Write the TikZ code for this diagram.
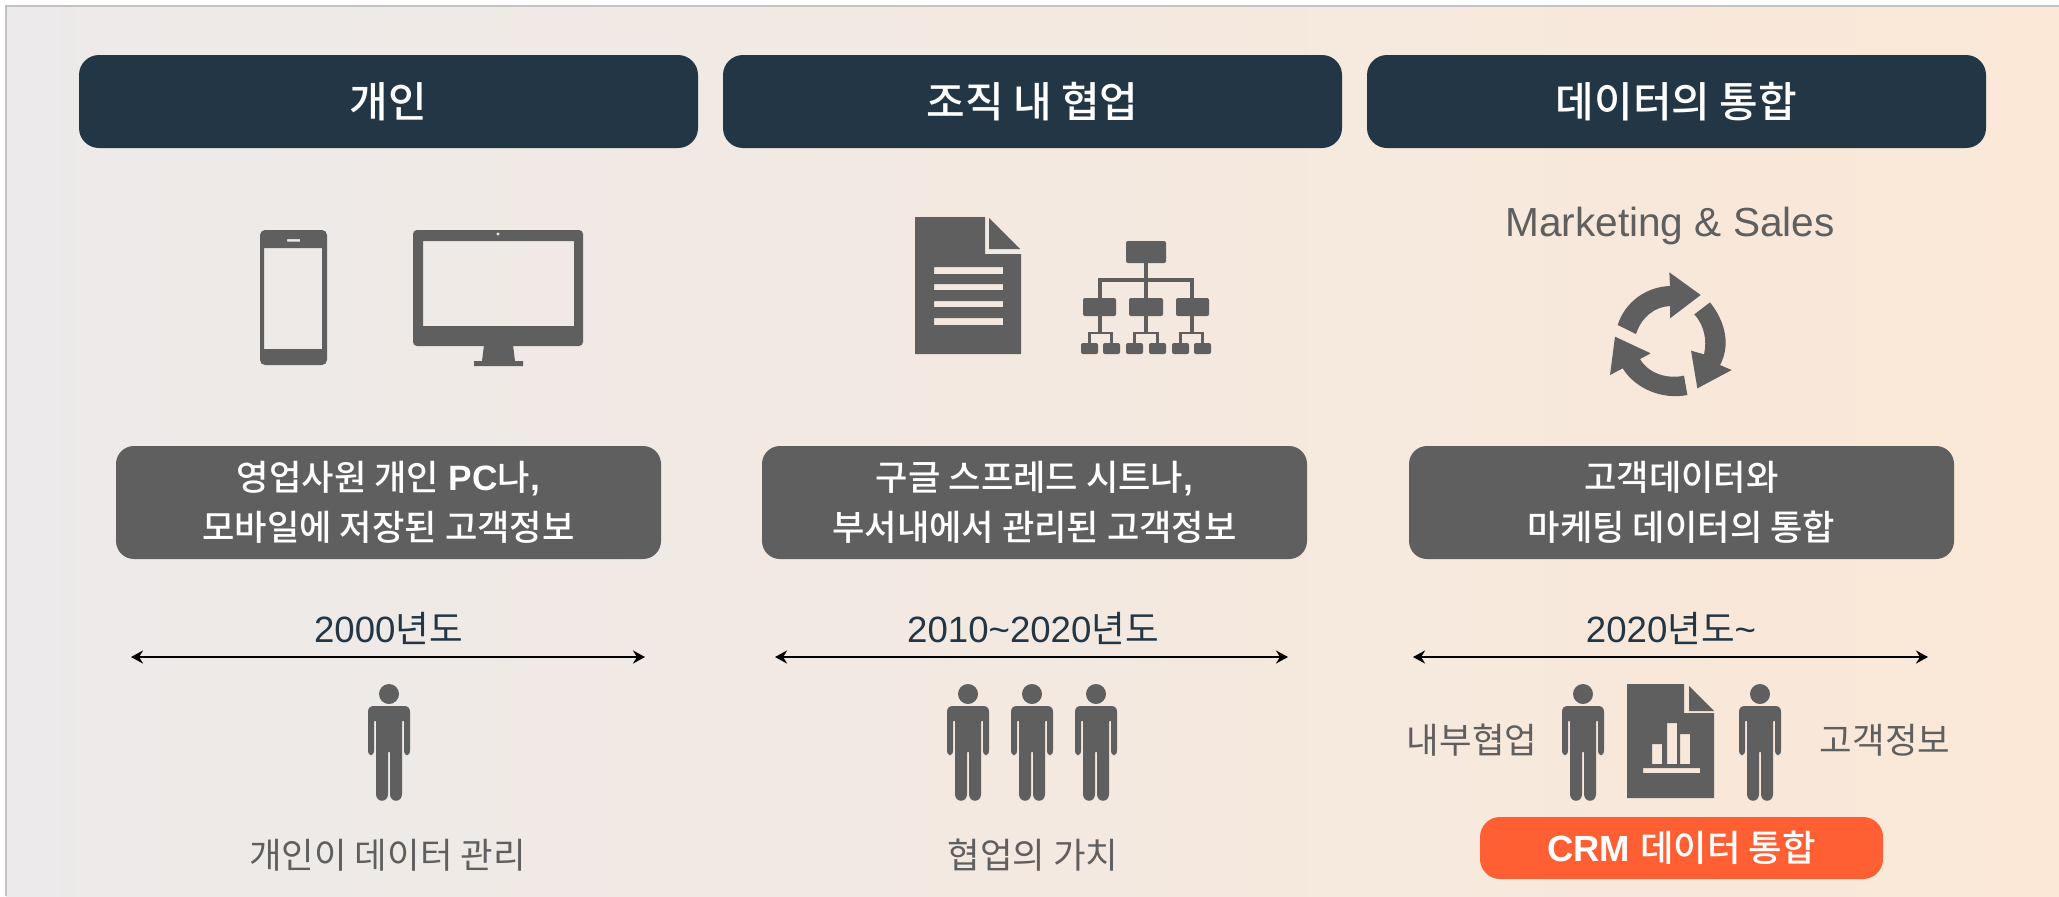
\documentclass[tikz,border=0pt]{standalone}
\usepackage{fontspec}
\usetikzlibrary{arrows.meta}
\setmainfont{Liberation Sans}
\newfontfamily\krfont[BoldFont={Noto Sans CJK KR Medium}]{Noto Sans CJK KR}
\newcommand{\K}[1]{{\krfont #1}}
\definecolor{navy}{HTML}{223645}
\definecolor{icon}{HTML}{5F5F5F}
\definecolor{crm}{HTML}{FF5F33}
\tikzset{
  x=0.5pt,y=-0.5pt,
  header/.style={fill=navy,rounded corners=10pt,minimum width=309.5pt,minimum height=46.5pt,inner sep=0pt,text=white,font=\fontsize{21}{25}\selectfont\bfseries},
  graybox/.style={fill=icon,rounded corners=9pt,minimum width=272.5pt,minimum height=56.5pt,inner sep=0pt,text=white,align=center,font=\fontsize{17.6}{25}\selectfont\bfseries},
  year/.style={text=navy,inner sep=0pt,font=\fontsize{18.3}{22}\selectfont},
  label/.style={text=icon,inner sep=0pt,font=\fontsize{17.7}{22}\selectfont},
  span/.style={{Stealth[length=6pt,width=6.5pt]}-{Stealth[length=6pt,width=6.5pt]},black,line width=1.2pt},
  person/.pic={
    \fill[icon] (0,0) circle[radius=5pt];
    \fill[icon] (-21,18) .. controls (-21,14) and (-19,12) .. (-15,12) -- (15,12)
      .. controls (19,12) and (21,14) .. (21,18) -- (21,56)
      .. controls (21,63) and (15,63) .. (15,56) -- (15,27) -- (13,27) -- (13,100)
      .. controls (13,109) and (1,109) .. (1,100) -- (1,58) -- (-1,58) -- (-1,100)
      .. controls (-1,109) and (-13,109) .. (-13,100) -- (-13,27) -- (-15,27) -- (-15,56)
      .. controls (-15,63) and (-21,63) .. (-21,56) -- cycle;
  }
}
\begin{document}
\begin{tikzpicture}
\useasboundingbox (0,0) rectangle (2059,896);
\shade[left color={rgb,255:red,236;green,234;blue,234}, right color={rgb,255:red,251;green,232;blue,215}] (6,6) rectangle (2059,896);
\draw[color={rgb,255:red,196;green,194;blue,192},line width=0.6pt] (6,896) -- (6,6) -- (2059,6);

% headers
\node[header] (h1) at (388.5,101.5) {\K{\bfseries 개인}};
\node[header] (h2) at (1032.5,101.5) {\K{\bfseries 조직 내 협업}};
\node[header] (h3) at (1676.5,101.5) {\K{\bfseries 데이터의 통합}};

% phone
\fill[icon,even odd rule] [rounded corners=2.5pt] (260,230) rectangle (327,365)
  [sharp corners] (264,248) rectangle (322,349) (287,239) rectangle (300,241.5);
% monitor
\fill[icon,even odd rule] [rounded corners=2pt] (413,230) rectangle (583,346)
  [sharp corners] (423,241) rectangle (574,326) (498,234) circle[radius=0.9pt];
\fill[icon] (484,345) -- (513,345) -- (515,361) -- (523,361) -- (523,366) -- (474,366) -- (474,361) -- (482,361) -- cycle;

% document
\fill[icon,even odd rule] (915,217) -- (985,217) -- (985,254) -- (1021,254) -- (1021,354) -- (915,354) -- cycle
  (934,267) rectangle (1003,274) (934,284) rectangle (1003,290) (934,301) rectangle (1003,307) (934,318) rectangle (1003,325);
\fill[icon] (989,218) -- (1020,249) -- (989,249) -- cycle;

% org chart
\begin{scope}[icon,line width=1.6pt]
  \draw (1146,263) -- (1146,298);
  \draw (1100,298) -- (1100,280) -- (1192,280) -- (1192,298);
  \draw (1100,316) -- (1100,333) (1146,316) -- (1146,333) (1192,316) -- (1192,333);
\end{scope}
\begin{scope}[icon,line width=1.3pt]
  \draw (1089.5,343) -- (1089.5,333) -- (1111.5,333) -- (1111.5,343);
  \draw (1134.5,343) -- (1134.5,333) -- (1157.5,333) -- (1157.5,343);
  \draw (1180.5,343) -- (1180.5,333) -- (1202.5,333) -- (1202.5,343);
\end{scope}
\begin{scope}[rounded corners=1pt]
  \fill[icon] (1126,241) rectangle (1166,263);
  \fill[icon] (1083,298) rectangle (1116,316);
  \fill[icon] (1129,298) rectangle (1163,316);
  \fill[icon] (1176,298) rectangle (1209,316);
  \fill[icon] (1081,343) rectangle (1098,354);
  \fill[icon] (1103,343) rectangle (1120,354);
  \fill[icon] (1126,343) rectangle (1143,354);
  \fill[icon] (1149,343) rectangle (1166,354);
  \fill[icon] (1172,343) rectangle (1189,354);
  \fill[icon] (1194,343) rectangle (1211,354);
\end{scope}

% marketing
\node[text=icon,inner sep=0pt,font=\fontsize{20.3}{24}\selectfont] (ms) at (1670,226) {Marketing \& Sales};
\begin{scope}[shift={(1580,260)},x=0.16667pt,y=-0.16667pt]
  \fill[icon] (113,195) .. controls (135,125) and (200,80) .. (270,78) -- (268,37) -- (362,105) -- (270,175) -- (270,138)
     .. controls (225,140) and (185,170) .. (168,222) -- cycle;
  \fill[icon] (390,127) .. controls (440,190) and (450,260) .. (420,315) -- (455,330) -- (352,385) -- (333,272) -- (372,283)
     .. controls (382,240) and (372,195) .. (343,163) -- cycle;
  \fill[icon] (322,405) .. controls (245,420) and (165,385) .. (128,325) -- (90,345) -- (105,230) -- (212,280) -- (180,297)
     .. controls (205,340) and (260,358) .. (312,347) -- cycle;
\end{scope}

% gray boxes
\node[graybox] (b1) at (388.5,502.5) {\K{\bfseries 영업사원 개인} \textbf{PC}\K{\bfseries 나},\\\K{\bfseries 모바일에 저장된 고객정보}};
\node[graybox] (b2) at (1034.5,502.5) {\K{\bfseries 구글 스프레드 시트나},\\\K{\bfseries 부서내에서 관리된 고객정보}};
\node[graybox] (b3) at (1681.5,502.5) {\K{\bfseries 고객데이터와}\\\K{\bfseries 마케팅 데이터의 통합}};

% years
\node[year] (y1) at (388.5,628) {2000\K{년도}};
\node[year] (y2) at (1033,628) {2010\textasciitilde 2020\K{년도}};
\node[year] (y3) at (1671,628) {2020\K{년도}\textasciitilde};
\coordinate (a1l) at (131,657); \coordinate (a1r) at (645,657);
\coordinate (a2l) at (775,657); \coordinate (a2r) at (1288,657);
\coordinate (a3l) at (1413,657); \coordinate (a3r) at (1928,657);
\draw[span] (a1l) -- (a1r);
\draw[span] (a2l) -- (a2r);
\draw[span] (a3l) -- (a3r);

% people
\pic at (389,694) {person};
\pic at (968,694) {person};
\pic at (1032,694) {person};
\pic at (1096,694) {person};
\pic at (1583,694) {person};
\pic at (1760,694) {person};

% report
\fill[icon,even odd rule] (1627,684) -- (1684,684) -- (1684,713) -- (1714,713) -- (1714,798) -- (1627,798) -- cycle
  (1652,744) rectangle (1662,764) (1667,723) rectangle (1677,764) (1680,734) rectangle (1690,764) (1643,768) rectangle (1700,773);
\fill[icon] (1689,686) -- (1714,711) -- (1689,711) -- cycle;

% labels
\node[label] (l1) at (387.5,855) {\K{개인이 데이터 관리}};
\node[label] (l2) at (1033,855) {\K{협업의 가치}};
\node[label] (l3) at (1472,740) {\K{내부협업}};
\node[label] (l4) at (1885,740) {\K{고객정보}};
\node[fill=crm,rounded corners=10pt,minimum width=201.5pt,minimum height=31pt,inner sep=0pt,text=white,font=\fontsize{18.2}{22}\selectfont\bfseries] (crm) at (1681.5,848) {CRM \K{\bfseries 데이터 통합}};
\end{tikzpicture}
\end{document}
